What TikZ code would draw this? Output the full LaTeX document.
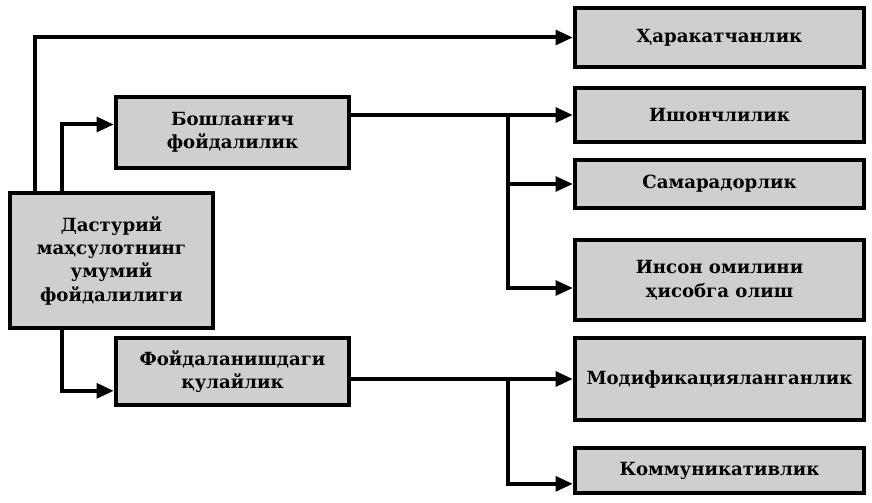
\documentclass[tikz,border=0pt]{standalone}
\usepackage{fontspec}
\setmainfont{DejaVu Serif}
\usepackage{tikz}
\usetikzlibrary{arrows.meta,positioning}

\begin{document}
\begin{tikzpicture}[
  x=0.75pt, y=-0.75pt,
  font=\fontsize{13.6}{17.5}\selectfont\bfseries,
  box/.style={draw, line width=3.2pt, fill=black!19, align=center,
              inner sep=2pt, minimum width=216.75pt},
  sub/.style={box, minimum width=174.75pt},
  arr/.style={line width=3pt, -{Triangle[length=13pt,width=11pt]}}
]
  \useasboundingbox (0,0) rectangle (872,503);
  % left part
  \node[box, minimum width=152.25pt, minimum height=101.25pt] (total) at (111.5,260.5)
    {Дастурий\\маҳсулотнинг\\умумий\\фойдалилиги};
  \node[sub, minimum height=53.25pt] (init) at (232.5,132.5) {Бошланғич\\фойдалилик};
  \node[sub, minimum height=50.25pt] (usage) at (232.5,371.5) {Фойдаланишдаги\\қулайлик};
  % right column
  \node[box, minimum height=44.25pt] (mobil) at (719.5,37.5) {Ҳаракатчанлик};
  \node[box, minimum height=40.5pt] (trust) at (719.5,115) {Ишончлилик};
  \node[box, minimum height=36pt] (effic) at (719.5,184) {Самарадорлик};
  \node[box, minimum height=60pt] (human) at (719.5,280) {Инсон омилини\\ҳисобга олиш};
  \node[box, minimum height=61.5pt] (modif) at (719.5,379) {Модификацияланганлик};
  \node[box, minimum height=33.75pt] (commu) at (719.5,470.5) {Коммуникативлик};

  % from the total
  \draw[arr] ([xshift=20.25pt]total.north west) |- (mobil.west);
  \draw[arr] ([xshift=40.5pt]total.north west) |- ([yshift=6pt]init.west);
  \draw[arr] ([xshift=40.5pt]total.south west) |- ([yshift=-14.5pt]usage.west);

  % initial usefulness branch
  \coordinate (jinit) at (508,115);
  \draw[arr] (init.east |- trust.west) -- (trust.west);
  \draw[arr] (jinit) |- (effic.west);
  \draw[arr] (jinit) |- ([yshift=-6pt]human.west);

  % usage branch
  \coordinate (jusage) at (508,379);
  \draw[arr] (usage.east |- modif.west) -- (modif.west);
  \draw[arr] (jusage) |- ([yshift=-10pt]commu.west);
\end{tikzpicture}
\end{document}
